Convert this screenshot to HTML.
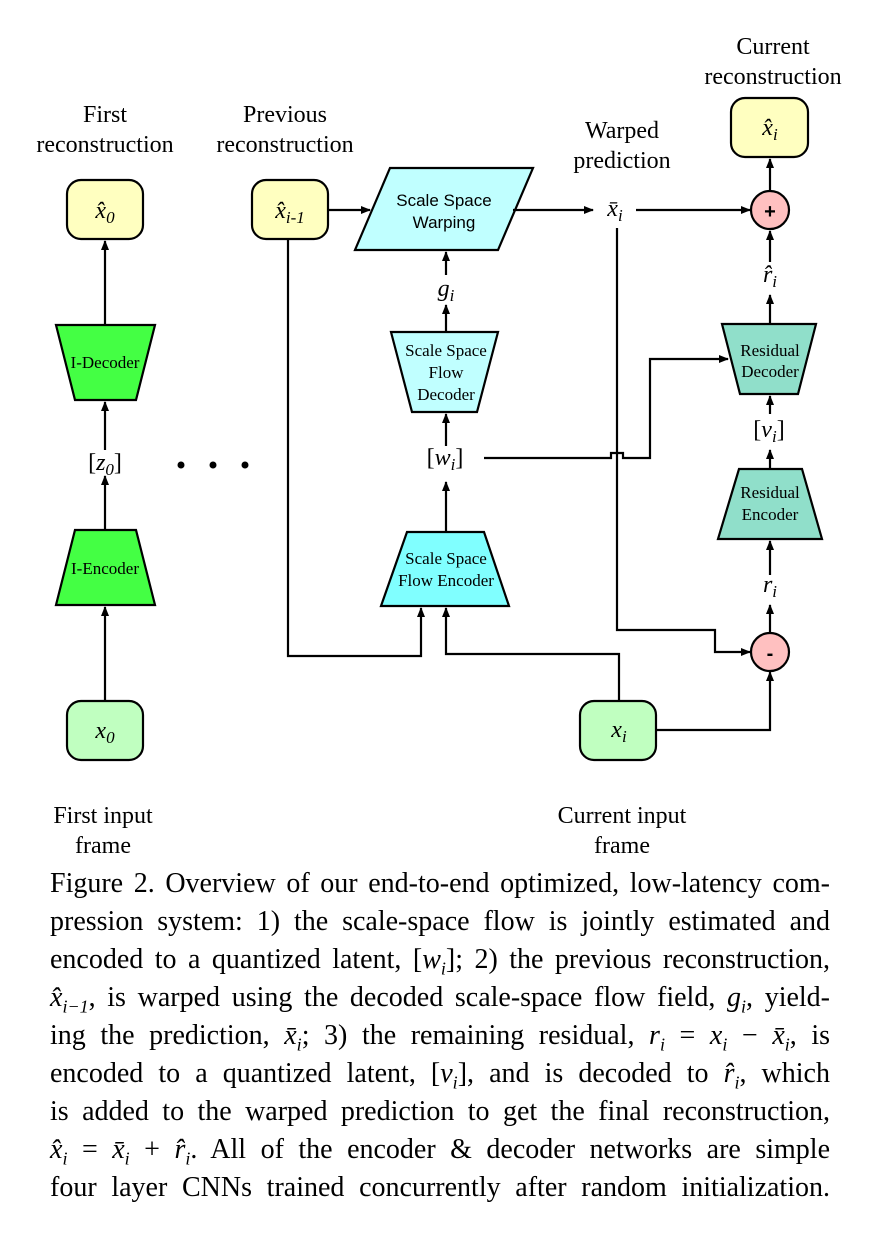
<!DOCTYPE html>
<html><head><meta charset="utf-8"><style>
body{margin:0;background:#fff;width:880px;height:1234px;position:relative;overflow:hidden;font-family:"Liberation Serif",serif}
svg{position:absolute;left:0;top:0}
.cap{position:absolute;left:50px;width:780px;font-size:28px;line-height:32px;text-align:justify;text-align-last:justify;white-space:nowrap;color:#000}
.cap i{font-style:italic}
.cap sub{font-size:18px}
</style></head><body>
<svg width="880" height="860" viewBox="0 0 880 860" font-family="Liberation Serif, serif">
<defs><marker id="a" markerWidth="10" markerHeight="8" refX="9" refY="4" orient="auto" markerUnits="userSpaceOnUse"><path d="M0,0 L10,4 L0,8 z" fill="#000"/></marker></defs>
<g font-size="24" text-anchor="middle">
<text x="105" y="122">First</text><text x="105" y="152">reconstruction</text>
<text x="285" y="122">Previous</text><text x="285" y="152">reconstruction</text>
<text x="622" y="138">Warped</text><text x="622" y="168">prediction</text>
<text x="773" y="54">Current</text><text x="773" y="84">reconstruction</text>
<text x="103" y="823">First input</text><text x="103" y="853">frame</text>
<text x="622" y="823">Current input</text><text x="622" y="853">frame</text>
</g>
<g stroke="#000" stroke-width="2.2">
<rect x="67" y="180" width="76" height="59" rx="14" fill="#ffffc0"/>
<rect x="252" y="180" width="76" height="59" rx="14" fill="#ffffc0"/>
<rect x="731" y="98" width="77" height="59" rx="14" fill="#ffffc0"/>
<rect x="67" y="701" width="76" height="59" rx="14" fill="#c0ffc0"/>
<rect x="580" y="701" width="76" height="59" rx="14" fill="#c0ffc0"/>
<polygon points="56,325 155,325 136,400 75,400" fill="#44ff44"/>
<polygon points="75,530 136,530 155,605 56,605" fill="#44ff44"/>
<polygon points="390,168 533,168 498,250 355,250" fill="#c0ffff"/>
<polygon points="391,332 498,332 477,412 412,412" fill="#c0ffff"/>
<polygon points="407,532 484,532 509,606 381,606" fill="#80ffff"/>
<polygon points="722,324 816,324 798,394 740,394" fill="#90dfca"/>
<polygon points="739,469 802,469 822,539 718,539" fill="#90dfca"/>
<circle cx="770" cy="210" r="19" fill="#ffc0c0"/>
<circle cx="770" cy="652" r="19" fill="#ffc0c0"/>
</g>
<g stroke="#000" stroke-width="2.2" fill="none" marker-end="url(#a)">
<line x1="105" y1="325" x2="105" y2="241"/>
<line x1="105" y1="450" x2="105" y2="402"/>
<line x1="105" y1="530" x2="105" y2="476"/>
<line x1="105" y1="700" x2="105" y2="607"/>
<line x1="328" y1="210" x2="370" y2="210"/>
<line x1="513" y1="210" x2="593" y2="210"/>
<line x1="636" y1="210" x2="750" y2="210"/>
<line x1="770" y1="190" x2="770" y2="159"/>
<line x1="770" y1="262" x2="770" y2="231"/>
<line x1="770" y1="324" x2="770" y2="295"/>
<line x1="770" y1="414" x2="770" y2="396"/>
<line x1="770" y1="469" x2="770" y2="450"/>
<line x1="770" y1="575" x2="770" y2="541"/>
<line x1="770" y1="633" x2="770" y2="605"/>
<polyline points="656,730 770,730 770,672"/>
<polyline points="619,701 619,654 446,654 446,608"/>
<polyline points="288,240 288,656 421,656 421,608"/>
<line x1="446" y1="532" x2="446" y2="482"/>
<line x1="446" y1="446" x2="446" y2="414"/>
<line x1="446" y1="332" x2="446" y2="305"/>
<line x1="446" y1="275" x2="446" y2="252"/>
<polyline points="484,458 611,458 611,453 623,453 623,458 650,458 650,359 728,359"/>
<polyline points="617,228 617,630 715,630 715,652 750,652"/>
</g>
<g fill="#000"><circle cx="181" cy="465" r="3.5"/><circle cx="213" cy="465" r="3.5"/><circle cx="245" cy="465" r="3.5"/></g>
<g font-family="Liberation Sans, sans-serif" font-size="17" text-anchor="middle"><text x="444" y="206">Scale Space</text><text x="444" y="228">Warping</text></g>
<g font-size="17" text-anchor="middle">
<text x="105" y="368">I-Decoder</text><text x="105" y="574">I-Encoder</text>
<text x="446" y="356">Scale Space</text><text x="446" y="378">Flow</text><text x="446" y="400">Decoder</text>
<text x="446" y="564">Scale Space</text><text x="446" y="586">Flow Encoder</text>
<text x="770" y="356">Residual</text><text x="770" y="377">Decoder</text>
<text x="770" y="498">Residual</text><text x="770" y="520">Encoder</text>
</g>
<g font-size="24" text-anchor="middle">
<text x="770" y="218" font-family="Liberation Sans, sans-serif" font-weight="bold" font-size="20">+</text>
<text x="770" y="660" font-family="Liberation Sans, sans-serif" font-weight="bold" font-size="20">-</text>
<text x="105" y="218"><tspan font-style="italic">x̂</tspan><tspan font-style="italic" font-size="17" dy="5">0</tspan></text>
<text x="290" y="218"><tspan font-style="italic">x̂</tspan><tspan font-style="italic" font-size="17" dy="5">i-1</tspan></text>
<text x="770" y="135"><tspan font-style="italic">x̂</tspan><tspan font-style="italic" font-size="17" dy="5">i</tspan></text>
<text x="105" y="738"><tspan font-style="italic">x</tspan><tspan font-style="italic" font-size="17" dy="5">0</tspan></text>
<text x="619" y="737"><tspan font-style="italic">x</tspan><tspan font-style="italic" font-size="17" dy="5">i</tspan></text>
<text x="615" y="216"><tspan font-style="italic">x̄</tspan><tspan font-style="italic" font-size="17" dy="5">i</tspan></text>
<text x="770" y="282"><tspan font-style="italic">r̂</tspan><tspan font-style="italic" font-size="17" dy="5">i</tspan></text>
<text x="770" y="592"><tspan font-style="italic">r</tspan><tspan font-style="italic" font-size="17" dy="5">i</tspan></text>
<text x="446" y="296"><tspan font-style="italic">g</tspan><tspan font-style="italic" font-size="17" dy="5">i</tspan></text>
<text x="105" y="470">[<tspan font-style="italic">z</tspan><tspan font-style="italic" font-size="17" dy="5">0</tspan><tspan dy="-5">]</tspan></text>
<text x="445" y="465">[<tspan font-style="italic">w</tspan><tspan font-style="italic" font-size="17" dy="5">i</tspan><tspan dy="-5">]</tspan></text>
<text x="769" y="437">[<tspan font-style="italic">v</tspan><tspan font-style="italic" font-size="17" dy="5">i</tspan><tspan dy="-5">]</tspan></text>
</g>
</svg>
<div class="cap" style="top:868px">Figure 2. Overview of our end-to-end optimized, low-latency com-</div>
<div class="cap" style="top:906px">pression system: 1) the scale-space flow is jointly estimated and</div>
<div class="cap" style="top:944px">encoded to a quantized latent, [<i>w<sub>i</sub></i>]; 2) the previous reconstruction,</div>
<div class="cap" style="top:982px"><i>x̂<sub>i−1</sub></i>, is warped using the decoded scale-space flow field, <i>g<sub>i</sub></i>, yield-</div>
<div class="cap" style="top:1020px">ing the prediction, <i>x̄<sub>i</sub></i>; 3) the remaining residual, <i>r<sub>i</sub></i> = <i>x<sub>i</sub></i> − <i>x̄<sub>i</sub></i>, is</div>
<div class="cap" style="top:1058px">encoded to a quantized latent, [<i>v<sub>i</sub></i>], and is decoded to <i>r̂<sub>i</sub></i>, which</div>
<div class="cap" style="top:1096px">is added to the warped prediction to get the final reconstruction,</div>
<div class="cap" style="top:1134px"><i>x̂<sub>i</sub></i> = <i>x̄<sub>i</sub></i> + <i>r̂<sub>i</sub></i>. All of the encoder &amp; decoder networks are simple</div>
<div class="cap" style="top:1172px">four layer CNNs trained concurrently after random initialization.</div>
</body></html>
